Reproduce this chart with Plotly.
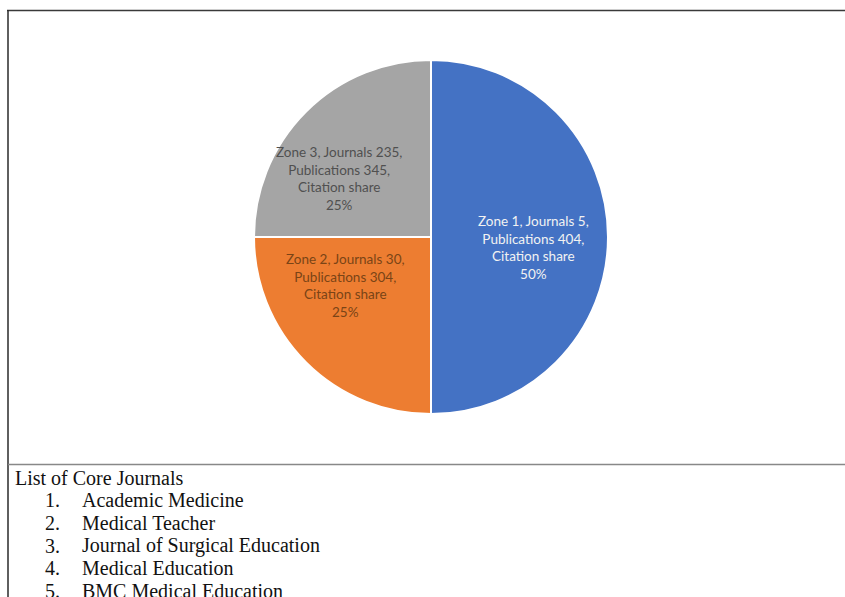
import plotly.graph_objects as go

W, H = 845, 597

zones = ["Zone 1", "Zone 2", "Zone 3"]
journals = [5, 30, 235]
publications = [404, 304, 345]
citation_share = [50, 25, 25]
colors = ["#4472C4", "#ED7D31", "#A5A5A5"]
text_colors = ["#F2F2F2", "#7A4416", "#505050"]

list_title = "List of Core Journals"
core_journals = ["Academic Medicine", "Medical Teacher", "Journal of Surgical Education",
                 "Medical Education", "BMC Medical Education"]

cx, cy, r = 431, 237, 177

def px(x):
    return x / W

def py(y):
    return 1 - y / H

fig = go.Figure()
fig.add_trace(go.Pie(
    labels=zones,
    values=citation_share,
    sort=False,
    direction="clockwise",
    rotation=0,
    marker=dict(colors=colors, line=dict(color="white", width=2)),
    textinfo="none",
    hoverinfo="label+value",
    showlegend=False,
    domain=dict(x=[px(cx - r), px(cx + r)], y=[py(cy + r), py(cy - r)]),
))

label_pos = [(533, 247), (345, 285), (339, 179)]
annotations = []
for i, z in enumerate(zones):
    txt = (f"{z}, Journals {journals[i]},<br>Publications {publications[i]},"
           f"<br>Citation share<br>{citation_share[i]}%")
    annotations.append(dict(
        x=px(label_pos[i][0]), y=py(label_pos[i][1]), xref="paper", yref="paper",
        text=txt, showarrow=False, align="center",
        font=dict(family="Lato, Open Sans, sans-serif", size=13.5, color=text_colors[i]),
        xanchor="center", yanchor="middle",
    ))

serif = "Liberation Serif, Times New Roman, serif"
annotations.append(dict(
    x=px(13), y=py(478), xref="paper", yref="paper", text=list_title, showarrow=False,
    xanchor="left", yanchor="middle", font=dict(family=serif, size=20, color="#111111"),
))
for i, j in enumerate(core_journals):
    yy = 500 + i * 22.8
    annotations.append(dict(
        x=px(62), y=py(yy), xref="paper", yref="paper", text=f"{i+1}.", showarrow=False,
        xanchor="right", yanchor="middle", font=dict(family=serif, size=20, color="#111111"),
    ))
    annotations.append(dict(
        x=px(80), y=py(yy), xref="paper", yref="paper", text=j, showarrow=False,
        xanchor="left", yanchor="middle", font=dict(family=serif, size=20, color="#111111"),
    ))

shapes = [
    dict(type="line", xref="paper", yref="paper", x0=px(7), x1=1.01, y0=py(10.5), y1=py(10.5),
         line=dict(color="#3a3a3a", width=1.5)),
    dict(type="line", xref="paper", yref="paper", x0=px(8), x1=px(8), y0=py(10), y1=-0.01,
         line=dict(color="#2a2a2a", width=1.5)),
    dict(type="line", xref="paper", yref="paper", x0=px(8), x1=1.01, y0=py(464.5), y1=py(464.5),
         line=dict(color="#888888", width=1.5)),
]

fig.update_layout(
    width=W, height=H,
    margin=dict(l=0, r=0, t=0, b=0),
    paper_bgcolor="white", plot_bgcolor="white",
    annotations=annotations, shapes=shapes,
)

fig.write_html("out.html")
